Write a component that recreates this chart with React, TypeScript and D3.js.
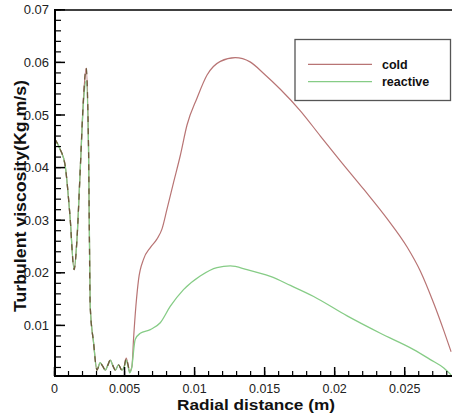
import React from "react";
import * as d3 from "d3";

const sharedX = [0, 0.0004, 0.00076, 0.0011, 0.0014, 0.0016, 0.00184, 0.00207, 0.00226, 0.00243, 0.00255, 0.00279, 0.00303, 0.00326, 0.00345, 0.00363, 0.0038, 0.00398, 0.00416, 0.00434, 0.00457, 0.00481, 0.00498, 0.00512, 0.00525, 0.00536];
const sharedColdY = [0.0455, 0.0435, 0.0404, 0.031, 0.0206, 0.0262, 0.0398, 0.0532, 0.0589, 0.0436, 0.0136, 0.0067, 0.0015, 0.0029, 0.0022, 0.0015, 0.0024, 0.0034, 0.0024, 0.0015, 0.0025, 0.0015, 0.0022, 0.0038, 0.0025, 0.0012];
const sharedReactiveY = [0.0455, 0.0435, 0.0404, 0.031, 0.0206, 0.0262, 0.0398, 0.0525, 0.0565, 0.0436, 0.0136, 0.0067, 0.0015, 0.0029, 0.0022, 0.0015, 0.0024, 0.0034, 0.0024, 0.0015, 0.0025, 0.0015, 0.0022, 0.0034, 0.0022, 0.001];

const coldX = [0.00553, 0.00564, 0.006, 0.00636, 0.00684, 0.00731, 0.00767, 0.00803, 0.0085, 0.00898, 0.00946, 0.01017, 0.01089, 0.01184, 0.0129, 0.01396, 0.01493, 0.01612, 0.01755, 0.01898, 0.0204, 0.0221, 0.02374, 0.02517, 0.02612, 0.02707, 0.02779, 0.02831];
const coldY = [0.0022, 0.0073, 0.0187, 0.0226, 0.0248, 0.0264, 0.0283, 0.0321, 0.0372, 0.0423, 0.0481, 0.0532, 0.0576, 0.0602, 0.0609, 0.0601, 0.0579, 0.0549, 0.0508, 0.046, 0.0413, 0.0358, 0.0303, 0.0249, 0.0203, 0.0142, 0.009, 0.005];

const reactiveX = [0.0055, 0.00576, 0.00612, 0.00684, 0.00755, 0.00826, 0.00921, 0.0104, 0.0116, 0.01255, 0.01374, 0.01541, 0.01684, 0.0185, 0.02089, 0.02326, 0.02564, 0.02683, 0.02779, 0.02831];
const reactiveY = [0.0018, 0.0073, 0.0085, 0.0092, 0.0105, 0.0136, 0.0168, 0.0194, 0.021, 0.0213, 0.0206, 0.0193, 0.0176, 0.0155, 0.0118, 0.0085, 0.0054, 0.0035, 0.0019, 0.0006];

const xTicks = [0, 0.005, 0.01, 0.015, 0.02, 0.025];
const xTickLabels = ["0", "0.005", "0.01", "0.015", "0.02", "0.025"];
const yTicks = [0.01, 0.02, 0.03, 0.04, 0.05, 0.06, 0.07];
const yTickLabels = ["0.01", "0.02", "0.03", "0.04", "0.05", "0.06", "0.07"];
const seriesNames = ["cold", "reactive"];

const COLD = "#b87474";
const REACT = "#86cc86";

export default function App() {
  const W = 452, H = 416;
  const x = d3.scaleLinear().domain([0, 0.02834]).range([54.5, 451.5]);
  const y = d3.scaleLinear().domain([0, 0.07]).range([378, 9.8]);
  const yBottom = 376;

  const line = d3.line<[number, number]>().x(d => x(d[0])).y(d => y(d[1])).curve(d3.curveMonotoneX);

  const sharedCold: [number, number][] = sharedX.map((v, i) => [v, sharedColdY[i]]);
  const sharedReact: [number, number][] = sharedX.map((v, i) => [v, sharedReactiveY[i]]);
  const cold: [number, number][] = sharedCold.concat(coldX.map((v, i) => [v, coldY[i]] as [number, number]));
  const react: [number, number][] = sharedReact.concat(reactiveX.map((v, i) => [v, reactiveY[i]] as [number, number]));

  const xMinor = d3.range(0, 0.0284, 0.001);
  const yMinor = d3.range(0.002, 0.0701, 0.002);

  const font = "Liberation Sans, Arial, sans-serif";

  return (
    <svg width={W} height={H} style={{ position: "absolute", left: 0, top: 0, background: "#fff" }} fontFamily={font}>
      <defs>
        <clipPath id="plot">
          <rect x={55} y={10} width={W - 55} height={yBottom - 10} />
        </clipPath>
      </defs>
      <g clipPath="url(#plot)">
        <path d={line(cold) || ""} fill="none" stroke={COLD} strokeWidth={1.2} />
        <path d={line(react) || ""} fill="none" stroke={REACT} strokeWidth={1.3} />
        <path d={line(sharedCold) || ""} fill="none" stroke="#6e5a3c" strokeWidth={1.3} strokeDasharray="6,6" />
      </g>
      {/* frame */}
      <line x1={55} x2={55} y1={9} y2={yBottom + 1} stroke="#000" strokeWidth={2} />
      <line x1={54} x2={W} y1={yBottom} y2={yBottom} stroke="#000" strokeWidth={2} />
      <line x1={54} x2={W} y1={10} y2={10} stroke="#000" strokeWidth={1.5} />
      {/* y ticks */}
      {yMinor.map((v, i) => (
        <line key={"ym" + i} x1={55} x2={61} y1={y(v)} y2={y(v)} stroke="#000" strokeWidth={1.2} />
      ))}
      {yTicks.map((v, i) => (
        <g key={"yt" + i}>
          <line x1={55} x2={65} y1={y(v)} y2={y(v)} stroke="#000" strokeWidth={1.5} />
          <text x={49} y={y(v)} dy="0.35em" textAnchor="end" fontSize={13} fill="#222">{yTickLabels[i]}</text>
        </g>
      ))}
      {/* x ticks */}
      {xMinor.map((v, i) => (
        <line key={"xm" + i} x1={x(v)} x2={x(v)} y1={yBottom} y2={yBottom - 5} stroke="#000" strokeWidth={1.2} />
      ))}
      {xTicks.map((v, i) => (
        <g key={"xt" + i}>
          <line x1={x(v)} x2={x(v)} y1={yBottom} y2={yBottom - 9} stroke="#000" strokeWidth={1.5} />
          <text x={x(v)} y={392.5} textAnchor="middle" fontSize={12.5} fill="#222">{xTickLabels[i]}</text>
        </g>
      ))}
      {/* axis titles */}
      <text x={256} y={409.5} textAnchor="middle" fontSize={14.5} fontWeight="bold" fill="#111" textLength={158} lengthAdjust="spacingAndGlyphs">Radial distance (m)</text>
      <text transform={`translate(26,196) rotate(-90)`} textAnchor="middle" fontSize={16} fontWeight="bold" fill="#111" textLength={232} lengthAdjust="spacingAndGlyphs">Turbulent viscosity(Kg.m/s)</text>
      {/* legend */}
      <rect x={295} y={39.5} width={155.5} height={61} fill="#fff" stroke="#555" strokeWidth={1.3} />
      <line x1={308} x2={372} y1={64.3} y2={64.3} stroke={COLD} strokeWidth={1.2} />
      <line x1={308} x2={372} y1={81.7} y2={81.7} stroke={REACT} strokeWidth={1.3} />
      <text x={382} y={64.3} dy="0.35em" fontSize={12.5} fontWeight="bold" fill="#111">{seriesNames[0]}</text>
      <text x={382} y={81.7} dy="0.35em" fontSize={12.5} fontWeight="bold" fill="#111">{seriesNames[1]}</text>
    </svg>
  );
}
